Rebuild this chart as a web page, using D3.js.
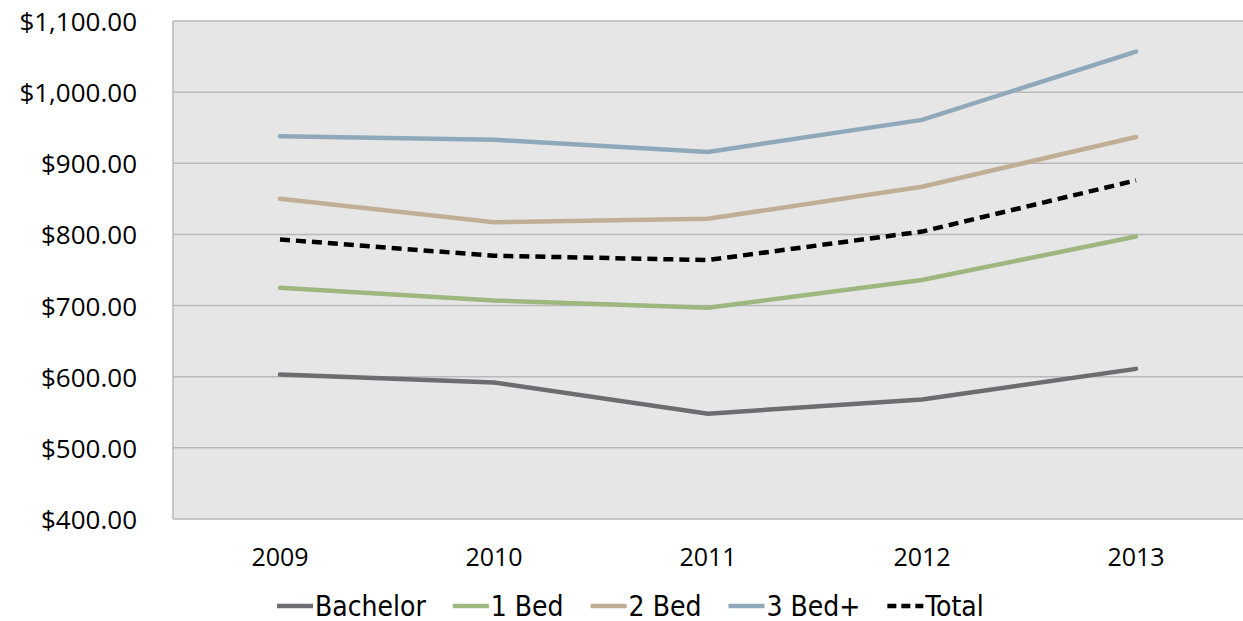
<!DOCTYPE html>
<html>
<head>
<meta charset="utf-8">
<script src="https://cdn.jsdelivr.net/npm/d3@7"></script>
<style>
  body { margin: 0; background: #fff; }
  svg { display: block; }
  text { font-family: "Open Sans", "Noto Sans", sans-serif; fill: #000; }
</style>
</head>
<body>
<svg id="chart" width="1243" height="621"></svg>
<script>
const years = ["2009", "2010", "2011", "2012", "2013"];
const bachelor = [603, 592, 548, 568, 611];
const oneBed = [725, 707, 697, 736, 797];
const twoBed = [850, 817, 822, 867, 937];
const threeBed = [938, 933, 916, 961, 1057];
const total = [793, 770, 764, 804, 876];
const yTicks = [400, 500, 600, 700, 800, 900, 1000, 1100];

const series = [
  { name: "Bachelor", values: bachelor, color: "#6d6c71", dash: null },
  { name: "1 Bed", values: oneBed, color: "#9db77f", dash: null },
  { name: "2 Bed", values: twoBed, color: "#c0ae95", dash: null },
  { name: "3 Bed+", values: threeBed, color: "#8fa9bb", dash: null },
  { name: "Total", values: total, color: "#000", dash: "10,6" }
];

const svg = d3.select("#chart");
const plotLeft = 173, plotRight = 1243, plotTop = 21, plotBottom = 519;

const x = d3.scaleBand().domain(years).range([plotLeft, plotRight]);
const y = d3.scaleLinear().domain([400, 1100]).range([plotBottom, plotTop]);

// plot background
svg.append("rect")
  .attr("x", plotLeft).attr("y", plotTop)
  .attr("width", plotRight - plotLeft).attr("height", plotBottom - plotTop)
  .attr("fill", "#e6e6e6");

// gridlines
svg.append("g").selectAll("line")
  .data(yTicks)
  .join("line")
  .attr("x1", plotLeft).attr("x2", plotRight)
  .attr("y1", d => y(d)).attr("y2", d => y(d))
  .attr("stroke", "#b9b9b9").attr("stroke-width", 1.5);

// left axis line
svg.append("line")
  .attr("x1", plotLeft).attr("x2", plotLeft)
  .attr("y1", plotTop).attr("y2", plotBottom)
  .attr("stroke", "#b9b9b9").attr("stroke-width", 1.5);

const fmt = d3.format("$,.2f");
svg.append("g").selectAll("text")
  .data(yTicks)
  .join("text")
  .attr("x", 137).attr("y", d => y(d))
  .attr("text-anchor", "end")
  .attr("dominant-baseline", "central")
  .style("font-size", "26px")
  .text(d => fmt(d));

svg.append("g").selectAll("text")
  .data(years)
  .join("text")
  .attr("x", d => x(d) + x.bandwidth() / 2)
  .attr("y", 556)
  .attr("text-anchor", "middle")
  .attr("dominant-baseline", "central")
  .style("font-size", "25px")
  .text(d => d);

const line = d3.line()
  .x((d, i) => x(years[i]) + x.bandwidth() / 2)
  .y(d => y(d));

svg.append("g").selectAll("path")
  .data(series)
  .join("path")
  .attr("d", d => line(d.values))
  .attr("fill", "none")
  .attr("stroke", d => d.color)
  .attr("stroke-width", 4.5)
  .attr("stroke-linecap", d => d.dash ? "butt" : "round")
  .attr("stroke-dasharray", d => d.dash);

// legend
const legend = svg.append("g");
let lx = 277;
series.forEach(s => {
  const g = legend.append("g");
  g.append("line")
    .attr("x1", lx).attr("x2", lx + 36)
    .attr("y1", 606).attr("y2", 606)
    .attr("stroke", s.color).attr("stroke-width", 4.5)
    .attr("stroke-dasharray", s.dash ? "9,5" : null);
  const t = g.append("text")
    .attr("x", lx + 38).attr("y", 606)
    .attr("dominant-baseline", "central")
    .style("font-size", "28px")
    .style("font-family", "'DejaVu Sans Condensed', 'Open Sans', sans-serif")
    .style("font-stretch", "condensed")
    .text(s.name);
  lx += 38 + t.node().getComputedTextLength() + 27;
});
</script>
</body>
</html>
